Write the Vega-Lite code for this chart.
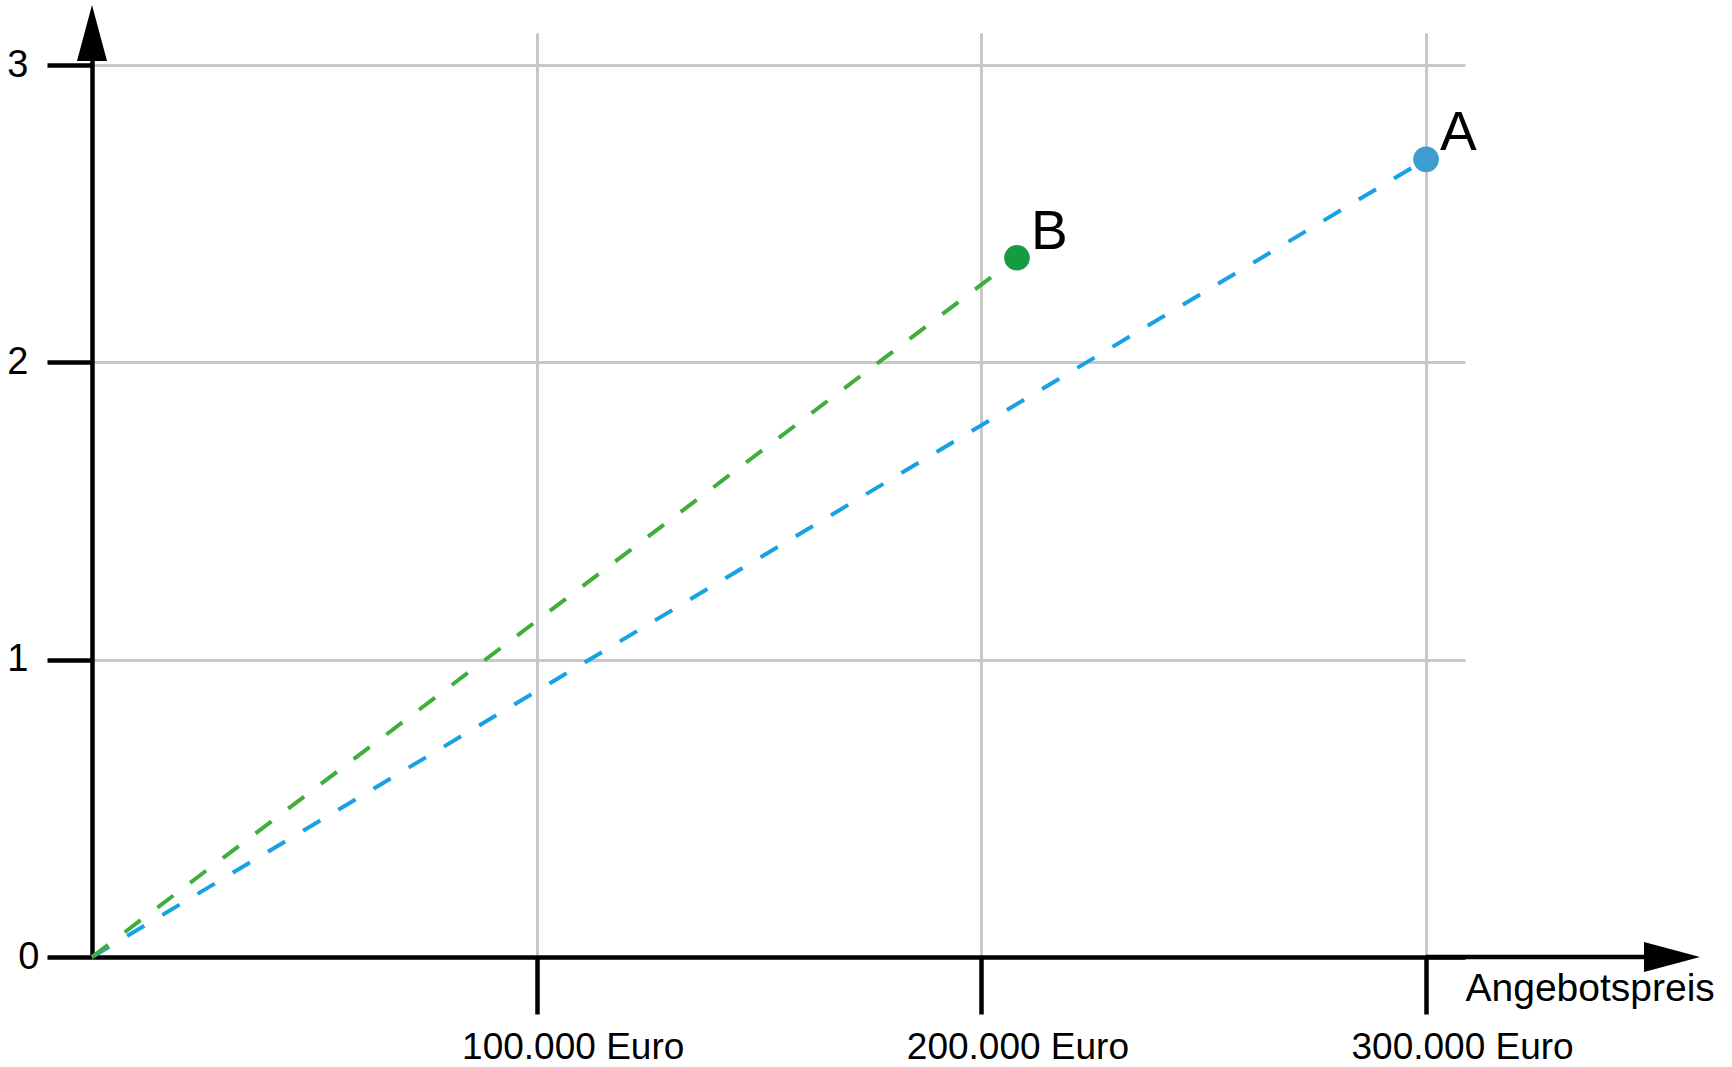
{
  "$schema": "https://vega.github.io/schema/vega-lite/v6.json",
  "autosize": "none",
  "width": 1373,
  "height": 924,
  "padding": {"left": 92, "top": 33, "right": 267, "bottom": 110},
  "background": "white",
  "config": {"view": {"stroke": null}, "font": "Liberation Sans"},
  "datasets": {
    "lines": [
      {"series": "A", "price": 0, "value": 0},
      {"series": "A", "price": 300000, "value": 2.683},
      {"series": "B", "price": 0, "value": 0},
      {"series": "B", "price": 208000, "value": 2.352}
    ],
    "points": [
      {"series": "A", "price": 300000, "value": 2.683},
      {"series": "B", "price": 208000, "value": 2.352}
    ],
    "xext": [{"from": 300000, "to": 349000, "value": 0}],
    "yarrow": [{"price": 0, "value": 3.108}],
    "xarrow": [{"price": 355300, "value": 0}]
  },
  "layer": [
    {
      "data": {"name": "lines"},
      "mark": {"type": "line", "strokeWidth": 4, "strokeDash": [20, 21], "strokeCap": "butt", "clip": false},
      "encoding": {
        "x": {
          "field": "price", "type": "quantitative",
          "scale": {"domain": [0, 308750], "nice": false, "zero": false},
          "axis": {
            "values": [100000, 200000, 300000],
            "labelExpr": "replace(format(datum.value, ','), ',', '.') + ' Euro'",
            "labelLimit": 0,
            "grid": true, "gridColor": "#c8c8c8", "gridWidth": 3,
            "domainColor": "black", "domainWidth": 4.5,
            "tickColor": "black", "tickWidth": 4.5, "tickSize": 57,
            "labelFontSize": 37, "labelColor": "black", "labelFont": "Liberation Sans",
            "labelBaseline": "alphabetic", "labelPadding": 44,
            "labelAlign": "center", "labelOffset": 36,
            "title": "Angebotspreis",
            "titleFont": "Liberation Sans", "titleFontSize": 39, "titleFontWeight": "normal",
            "titleColor": "black", "titleX": 1373, "titleY": 43, "titleLimit": 0,
            "titleAlign": "left", "titleBaseline": "alphabetic", "titleAnchor": "start"
          }
        },
        "y": {
          "field": "value", "type": "quantitative",
          "scale": {"domain": [0, 3.108], "nice": false, "zero": false},
          "axis": {
            "values": [0, 1, 2, 3],
            "format": "d",
            "grid": true, "gridColor": "#c8c8c8", "gridWidth": 3,
            "domainColor": "black", "domainWidth": 4.5,
            "tickColor": "black", "tickWidth": 4.5, "tickSize": 45,
            "labelFontSize": 38, "labelColor": "black", "labelFont": "Liberation Sans",
            "labelBaseline": "middle",
            "labelPadding": {"condition": {"test": "datum.value == 0", "value": 8}, "value": 19},
            "title": null
          }
        },
        "detail": {"field": "series"},
        "color": {
          "field": "series", "type": "nominal",
          "scale": {"domain": ["A", "B"], "range": ["#18a2e4", "#3fae3c"]},
          "legend": null
        }
      }
    },
    {
      "data": {"name": "xext"},
      "mark": {"type": "rule", "strokeWidth": 4.5, "color": "black", "clip": false},
      "encoding": {
        "x": {"field": "from", "type": "quantitative"},
        "x2": {"field": "to"},
        "y": {"field": "value", "type": "quantitative"}
      }
    },
    {
      "data": {"name": "yarrow"},
      "mark": {"type": "point", "shape": "M0,-1L0.536,1L-0.536,1Z", "size": 3136, "filled": true, "color": "black", "opacity": 1, "clip": false},
      "encoding": {
        "x": {"field": "price", "type": "quantitative"},
        "y": {"field": "value", "type": "quantitative"}
      }
    },
    {
      "data": {"name": "xarrow"},
      "mark": {"type": "point", "shape": "M1,0L-1,-0.536L-1,0.536Z", "size": 3136, "filled": true, "color": "black", "opacity": 1, "clip": false},
      "encoding": {
        "x": {"field": "price", "type": "quantitative"},
        "y": {"field": "value", "type": "quantitative"}
      }
    },
    {
      "data": {"name": "points"},
      "mark": {"type": "circle", "size": 660, "opacity": 1, "clip": false},
      "encoding": {
        "x": {"field": "price", "type": "quantitative"},
        "y": {"field": "value", "type": "quantitative"},
        "fill": {
          "field": "series", "type": "nominal",
          "scale": {"domain": ["A", "B"], "range": ["#3e9dd0", "#159b40"]},
          "legend": null
        }
      }
    },
    {
      "data": {"name": "points"},
      "mark": {"type": "text", "align": "left", "baseline": "alphabetic", "dx": 14, "dy": -9, "fontSize": 55, "font": "Liberation Sans", "color": "black", "clip": false},
      "encoding": {
        "x": {"field": "price", "type": "quantitative"},
        "y": {"field": "value", "type": "quantitative"},
        "text": {"field": "series"}
      }
    }
  ],
  "resolve": {"scale": {"color": "independent", "fill": "independent"}}
}
